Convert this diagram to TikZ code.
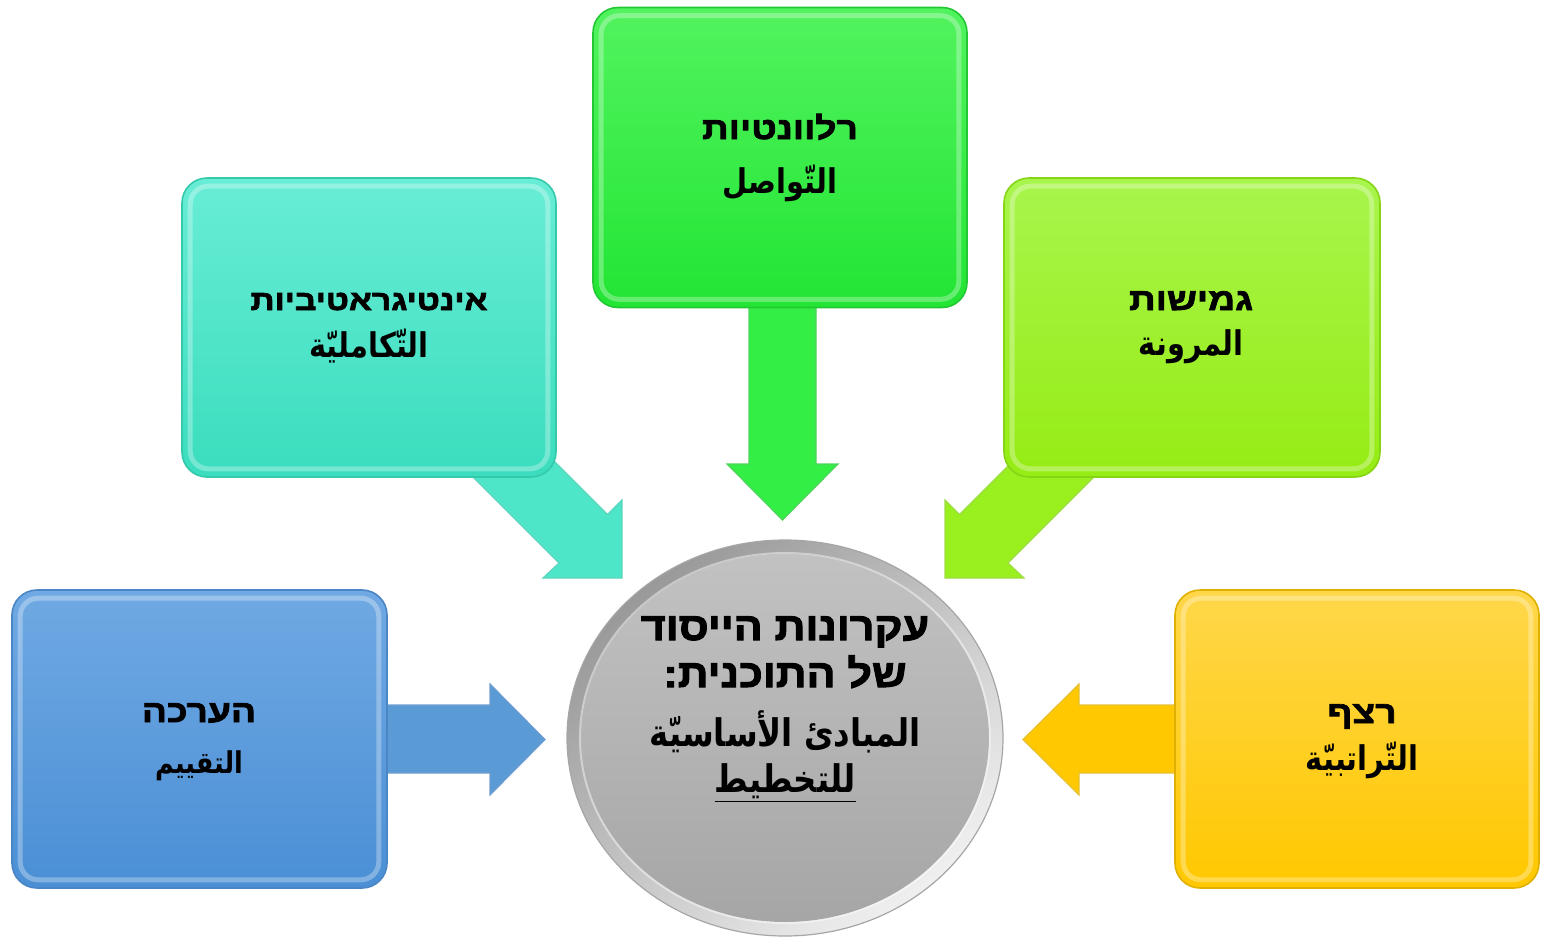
\documentclass[tikz,border=0pt]{standalone}
\usepackage{fontspec}
\usetikzlibrary{shapes.geometric,calc}
\TeXXeTstate=1
\newfontfamily\hebfont[Script=Hebrew, FakeBold=2.5, FakeStretch=1.2]{Liberation Sans Bold}
\newfontfamily\hebfontc[Script=Hebrew, FakeBold=2.5, FakeStretch=1.1]{Liberation Sans Bold}
\newfontfamily\arabfont[Script=Arabic, FakeStretch=0.85]{DejaVu Sans}
\newcommand\hebtxt[1]{{\hebfont\beginR #1\endR}}
\newcommand\hebctxt[1]{{\hebfontc\beginR #1\endR}}
\newcommand\arbtxt[1]{{\arabfont\bfseries\beginR #1\endR}}
\definecolor{blueA}{HTML}{70A9E3}\definecolor{blueB}{HTML}{4A8FD5}\definecolor{blueE}{HTML}{4A86C6}\definecolor{blueR}{HTML}{5B9BD5}
\definecolor{tealA}{HTML}{68EDD6}\definecolor{tealB}{HTML}{3ADDBE}\definecolor{tealE}{HTML}{35C9AC}\definecolor{tealR}{HTML}{4DE6C8}
\definecolor{greenA}{HTML}{52F35E}\definecolor{greenB}{HTML}{22E534}\definecolor{greenE}{HTML}{22C833}\definecolor{greenR}{HTML}{33EE44}
\definecolor{limeA}{HTML}{A8F54C}\definecolor{limeB}{HTML}{96EC14}\definecolor{limeE}{HTML}{86D416}\definecolor{limeR}{HTML}{99F01E}
\definecolor{yelA}{HTML}{FFD74A}\definecolor{yelB}{HTML}{FFC800}\definecolor{yelE}{HTML}{E0B000}\definecolor{yelR}{HTML}{FFC800}
\tikzset{
  pbox/.style={rectangle, rounded corners=12.5pt, minimum width=187pt, minimum height=149.5pt,
    draw=#1E, line width=0.8pt, top color=#1A, bottom color=#1B, inner sep=0pt},
  bevel/.style={draw=white, draw opacity=0.3, line width=2.5pt, rounded corners=9pt},
  barrow/.style={draw=#1E!80, fill=#1R, line width=0.6pt, line join=miter},
  hlbl/.style={anchor=base, inner sep=0pt, font=\fontsize{15.5}{18}\selectfont},
  albl/.style={anchor=base, inner sep=0pt, font=\fontsize{17}{20}\selectfont},
  chl/.style={anchor=base, inner sep=0pt, font=\fontsize{19.5}{22}\selectfont},
  cal/.style={anchor=base, inner sep=0pt, font=\fontsize{19}{22}\selectfont},
}
\begin{document}
\begin{tikzpicture}[x=0.5pt, y=-0.5pt]
\useasboundingbox (0,0) rectangle (1541,938);

% block arrows (under the boxes)
\draw[barrow=teal] (456,460) -- (553,460) -- (607.5,514.5) -- (622,500) -- (622,578) -- (543,578) -- (559,563) -- cycle;
\draw[barrow=lime] (1111,460) -- (1014,460) -- (959.5,514.5) -- (945,500) -- (945,578) -- (1024,578) -- (1008,563) -- cycle;
\draw[barrow=green] (749,290) -- (816,290) -- (816,464) -- (838,464) -- (782.5,520) -- (727,464) -- (749,464) -- cycle;
\draw[barrow=blue] (370,705) -- (490,705) -- (490,684) -- (545,739.5) -- (490,795) -- (490,773) -- (370,773) -- cycle;
\draw[barrow=yel] (1190,705) -- (1079,705) -- (1079,684) -- (1023,739.5) -- (1079,795) -- (1079,773) -- (1190,773) -- cycle;

% boxes
\node[pbox=blue, minimum width=187.5pt, minimum height=149pt] (eval) at (199.5,739) {};
\node[pbox=teal] (integ) at (369,327.5) {};
\node[pbox=green, minimum height=150pt] (relev) at (780,157.5) {};
\node[pbox=lime, minimum width=188pt] (flex) at (1192,327.5) {};
\node[pbox=yel, minimum width=182pt, minimum height=149pt] (seq) at (1357,739) {};
\foreach \n in {eval,integ,relev,flex,seq}{
  \draw[bevel] ($(\n.north west)+(9,9)$) rectangle ($(\n.south east)+(-9,-9)$);
}

% centre
\node[ellipse, minimum width=218pt, minimum height=198pt, inner sep=0pt, draw=black!35, line width=0.6pt,
      top color=black!40, bottom color=black!6, shading angle=40] (core) at (785,738) {};
\path[top color=black!24, bottom color=black!35] (core.center) ellipse [x radius=102pt, y radius=92pt];
\draw[white, opacity=0.45, line width=1pt] (core.center) ellipse [x radius=102.5pt, y radius=92.5pt];

% labels
\node[hlbl, font=\fontsize{14}{17}\selectfont] (integH) at (369,310) {\hebtxt{אינטיגראטיביות}};
\node[albl] (integA) at (369,357) {\arbtxt{التّكامليّة}};
\node[hlbl] (relevH) at (780,139) {\hebtxt{רלוונטיות}};
\node[albl] (relevA) at (780,193) {\arbtxt{التّواصل}};
\node[hlbl] (flexH) at (1191,310) {\hebtxt{גמישות}};
\node[albl] (flexA) at (1191,355) {\arbtxt{المرونة}};
\node[hlbl] (evalH) at (199,722) {\hebtxt{הערכה}};
\node[albl, font=\fontsize{15}{18}\selectfont] (evalA) at (199,773) {\arbtxt{التقييم}};
\node[hlbl] (seqH) at (1362,723) {\hebtxt{רצף}};
\node[albl] (seqA) at (1362,770) {\arbtxt{التّراتبيّة}};

\node[chl] (c1) at (785,640) {\hebctxt{עקרונות הייסוד}};
\node[chl] (c2) at (785,687) {\hebctxt{של התוכנית:}};
\node[cal] (c3) at (785,746) {\arbtxt{المبادئ الأساسيّة}};
\node[cal] (c4) at (785,792) {\underline{\arbtxt{للتخطيط}}};
\end{tikzpicture}
\end{document}
